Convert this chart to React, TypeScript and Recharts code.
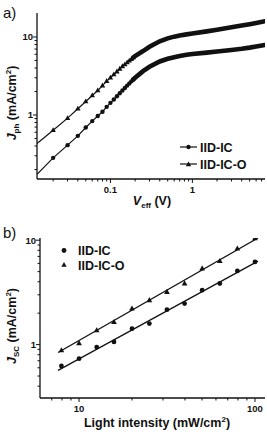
import React from 'react'
import { ComposedChart, LineChart, Line, Scatter, XAxis, YAxis } from 'recharts'

// panel a) photocurrent vs effective voltage
const vEff = [
  0.0127, 0.02, 0.03, 0.04, 0.05, 0.06, 0.07, 0.08, 0.09, 0.1, 0.11, 0.12, 0.13, 0.14, 0.15,
  0.16, 0.17, 0.18, 0.19, 0.2, 0.25, 0.3, 0.4, 0.5, 0.6, 0.7, 0.85, 1, 1.5, 2, 3, 4, 5, 6, 7.7,
]
const jphIIDIC = [
  0.173, 0.282, 0.41, 0.54, 0.69, 0.835, 0.97, 1.1, 1.27, 1.43, 1.58, 1.74, 1.9, 2.06, 2.22,
  2.38, 2.54, 2.7, 2.85, 3.0, 3.65, 4.15, 4.85, 5.25, 5.5, 5.7, 5.9, 6.05, 6.3, 6.5, 6.8, 7.05, 7.3,
  7.55, 7.9,
]
const jphIIDICO = [
  0.43, 0.636, 0.91, 1.2, 1.49, 1.78, 2.06, 2.38, 2.72, 3.0, 3.3, 3.6, 3.9, 4.2, 4.45,
  4.7, 4.95, 5.2, 5.45, 5.7, 6.6, 7.5, 8.8, 9.6, 10.1, 10.45, 10.8, 11.1, 11.8, 12.4, 13.3, 14.0,
  14.6, 15.1, 15.9,
]
const veffTicks = [
  0.02, 0.03, 0.04, 0.05, 0.06, 0.07, 0.08, 0.09, 0.1, 0.2, 0.3, 0.4, 0.5, 0.6, 0.7, 0.8, 0.9, 1,
  2, 3, 4, 5, 6, 7,
]
const jphTicks = [0.2, 0.3, 0.4, 0.5, 0.6, 0.7, 0.8, 0.9, 1, 2, 3, 4, 5, 6, 7, 8, 9, 10]

// panel b) short-circuit current vs light intensity
const intensity = [7.94, 10, 12.6, 15.8, 20, 25.1, 31.6, 39.8, 50.1, 63.1, 79.4, 100]
const jscIIDIC = [0.624, 0.734, 0.948, 1.06, 1.42, 1.59, 2.16, 2.47, 3.32, 3.85, 5.08, 6.19]
const jscIIDICO = [0.88, 1.03, 1.37, 1.64, 2.21, 2.66, 3.19, 3.85, 5.36, 6.29, 8.32, 10.4]
const fitIntensity = [7.6, 104]
const fitIIDIC = [0.567, 6.3]
const fitIIDICO = [0.84, 10.5]
const intensityTicks = [7, 8, 9, 10, 20, 30, 40, 50, 60, 70, 80, 90, 100]
const jscTicks = [0.4, 0.5, 0.6, 0.7, 0.8, 0.9, 1, 2, 3, 4, 5, 6, 7, 8, 9, 10]

const majorTicks = [0.1, 1, 10, 100]

const FONT = '"Liberation Sans", Arial, sans-serif'
const INK = '#111'

const zip = (xs: number[], ys: number[]) => xs.map((x, i) => ({ x, y: ys[i] }))

const XTick = (props: any) => {
  const { x, y, payload } = props
  const major = majorTicks.includes(payload.value)
  return (
    <g>
      <line x1={x} x2={x} y1={y} y2={y + (major ? 4 : 2.5)} stroke={INK} strokeWidth={1} />
      {major && (
        <text x={x} y={y + 14} textAnchor="middle" fontSize={9.5} fontWeight="bold" fontFamily={FONT} fill={INK}>
          {String(payload.value)}
        </text>
      )}
    </g>
  )
}

const YTick = (props: any) => {
  const { x, y, payload } = props
  const major = majorTicks.includes(payload.value)
  return (
    <g>
      <line x1={x} x2={x - (major ? 4 : 2.5)} y1={y} y2={y} stroke={INK} strokeWidth={1} />
      {major && (
        <text x={x - 4} y={y + 3.5} textAnchor="end" fontSize={9.5} fontWeight="bold" fontFamily={FONT} fill={INK}>
          {String(payload.value)}
        </text>
      )}
    </g>
  )
}

const triangle = (cx: number, cy: number, s = 1) =>
  `M${cx},${cy - 3 * s}L${cx + 2.7 * s},${cy + 1.8 * s}L${cx - 2.7 * s},${cy + 1.8 * s}Z`

const markerRange = (v: number) => v >= 0.02 && v <= 0.19

const circleDot = (p: any) =>
  markerRange(p.payload.x) ? (
    <circle key={`c${p.index}`} cx={p.cx} cy={p.cy} r={2.2} fill={INK} />
  ) : (
    <g key={`c${p.index}`} />
  )

const triangleDot = (p: any) =>
  markerRange(p.payload.x) ? (
    <path key={`t${p.index}`} d={triangle(p.cx, p.cy)} fill={INK} />
  ) : (
    <g key={`t${p.index}`} />
  )

const frameAxes = (id: string) => [
  <XAxis
    key="top"
    xAxisId={id}
    orientation="top"
    type="number"
    domain={[0, 1]}
    height={0}
    tick={false}
    tickLine={false}
    axisLine={{ stroke: '#333', strokeWidth: 1.6 }}
  />,
  <YAxis
    key="right"
    yAxisId={id}
    orientation="right"
    type="number"
    domain={[0, 1]}
    width={0}
    tick={false}
    tickLine={false}
    axisLine={{ stroke: '#333', strokeWidth: 1.4 }}
  />,
]

const PanelA = () => {
  const ic = zip(vEff, jphIIDIC)
  const ico = zip(vEff, jphIIDICO)
  const icBand = ic.filter((d) => d.x >= 0.19)
  const icoBand = ico.filter((d) => d.x >= 0.19)
  return (
    <LineChart width={267} height={215} margin={{ top: 13, right: 2, left: 0, bottom: 0 }}>
      <XAxis
        dataKey="x"
        type="number"
        scale="log"
        domain={[0.0127, 7.7]}
        allowDataOverflow
        ticks={veffTicks}
        interval={0}
        height={36}
        tickSize={0}
        tickMargin={0}
        tick={<XTick />}
        tickLine={false}
        axisLine={{ stroke: INK, strokeWidth: 1.3 }}
      />
      <YAxis
        dataKey="y"
        type="number"
        scale="log"
        domain={[0.151, 20.3]}
        allowDataOverflow
        ticks={jphTicks}
        interval={0}
        width={37}
        tickSize={0}
        tickMargin={0}
        tick={<YTick />}
        tickLine={false}
        axisLine={{ stroke: INK, strokeWidth: 1.3 }}
      />
      {frameAxes('frame')}
      <Line data={ic} dataKey="y" stroke={INK} strokeWidth={1.2} dot={circleDot} isAnimationActive={false} />
      <Line data={ico} dataKey="y" stroke={INK} strokeWidth={1.2} dot={triangleDot} isAnimationActive={false} />
      <Line data={icBand} dataKey="y" stroke={INK} strokeWidth={4.6} strokeLinecap="round" dot={false} isAnimationActive={false} />
      <Line data={icoBand} dataKey="y" stroke={INK} strokeWidth={4.6} strokeLinecap="round" dot={false} isAnimationActive={false} />
    </LineChart>
  )
}

const PanelB = () => {
  const ic = zip(intensity, jscIIDIC)
  const ico = zip(intensity, jscIIDICO)
  const fitIc = zip(fitIntensity, fitIIDIC)
  const fitIco = zip(fitIntensity, fitIIDICO)
  return (
    <ComposedChart width={267} height={220} margin={{ top: 23, right: 2, left: 0, bottom: 0 }}>
      <XAxis
        dataKey="x"
        type="number"
        scale="log"
        domain={[6, 114]}
        allowDataOverflow
        ticks={intensityTicks}
        interval={0}
        height={37}
        tickSize={0}
        tickMargin={0}
        tick={<XTick />}
        tickLine={false}
        axisLine={{ stroke: INK, strokeWidth: 1.3 }}
      />
      <YAxis
        dataKey="y"
        type="number"
        scale="log"
        domain={[0.308, 10.5]}
        allowDataOverflow
        ticks={jscTicks}
        interval={0}
        width={40}
        tickSize={0}
        tickMargin={0}
        tick={<YTick />}
        tickLine={false}
        axisLine={{ stroke: INK, strokeWidth: 1.3 }}
      />
      {frameAxes('frame')}
      <Line data={fitIc} dataKey="y" stroke={INK} strokeWidth={1.3} dot={false} isAnimationActive={false} />
      <Line data={fitIco} dataKey="y" stroke={INK} strokeWidth={1.3} dot={false} isAnimationActive={false} />
      <Scatter
        data={ic}
        isAnimationActive={false}
        shape={(p: any) => <circle cx={p.cx} cy={p.cy} r={2.4} fill={INK} />}
      />
      <Scatter
        data={ico}
        isAnimationActive={false}
        shape={(p: any) => <path d={triangle(p.cx, p.cy, 1.05)} fill={INK} />}
      />
    </ComposedChart>
  )
}

const Overlay = () => (
  <svg width={267} height={435} style={{ position: 'absolute', left: 0, top: 0, pointerEvents: 'none' }} fontFamily={FONT}>
    <text x={3} y={18} fontSize={15} fill={INK}>a)</text>
    <text x={3} y={238} fontSize={15} fill={INK}>b)</text>

    {/* panel a titles */}
    <text transform="rotate(-90)" x={-103} y={16} textAnchor="middle" fontSize={12.5} fontWeight="bold" fill={INK}>
      <tspan fontStyle="italic">J</tspan>
      <tspan fontSize={8} dy={3}>ph</tspan>
      <tspan dy={-3}> (mA/cm</tspan>
      <tspan fontSize={8} dy={-5}>2</tspan>
      <tspan dy={5}>)</tspan>
    </text>
    <text x={152} y={205} textAnchor="middle" fontSize={12.5} fontWeight="bold" fill={INK}>
      <tspan fontStyle="italic">V</tspan>
      <tspan fontSize={8} dy={3}>eff</tspan>
      <tspan dy={-3}> (V)</tspan>
    </text>

    {/* panel a legend */}
    <line x1={180} x2={197} y1={147} y2={147} stroke={INK} strokeWidth={1.2} />
    <circle cx={188.5} cy={147} r={2.2} fill={INK} />
    <text x={200} y={151.5} fontSize={12.5} fontWeight="bold" fill={INK}>IID-IC</text>
    <line x1={180} x2={197} y1={164} y2={164} stroke={INK} strokeWidth={1.2} />
    <path d={triangle(188.5, 164.5)} fill={INK} />
    <text x={200} y={168.5} fontSize={12.5} fontWeight="bold" fill={INK}>IID-IC-O</text>

    {/* panel b titles */}
    <text transform="rotate(-90)" x={-326} y={16} textAnchor="middle" fontSize={12.5} fontWeight="bold" fill={INK}>
      <tspan fontStyle="italic">J</tspan>
      <tspan fontSize={8} dy={3}>SC</tspan>
      <tspan dy={-3}> (mA/cm</tspan>
      <tspan fontSize={8} dy={-5}>2</tspan>
      <tspan dy={5}>)</tspan>
    </text>
    <text x={157} y={427} textAnchor="middle" fontSize={12.5} fontWeight="bold" fill={INK}>
      Light intensity (mW/cm<tspan fontSize={8} dy={-5}>2</tspan>
      <tspan dy={5}>)</tspan>
    </text>

    {/* panel b legend */}
    <circle cx={64} cy={250.5} r={2.4} fill={INK} />
    <text x={78} y={255} fontSize={12.5} fontWeight="bold" fill={INK}>IID-IC</text>
    <path d={triangle(64, 265)} fill={INK} />
    <text x={78} y={269.5} fontSize={12.5} fontWeight="bold" fill={INK}>IID-IC-O</text>
  </svg>
)

export default function App() {
  return (
    <div style={{ position: 'fixed', left: 0, top: 0, width: 267, height: 435, background: '#fff' }}>
      <div style={{ position: 'absolute', left: 0, top: 0 }}>
        <PanelA />
      </div>
      <div style={{ position: 'absolute', left: 0, top: 215 }}>
        <PanelB />
      </div>
      <Overlay />
    </div>
  )
}
